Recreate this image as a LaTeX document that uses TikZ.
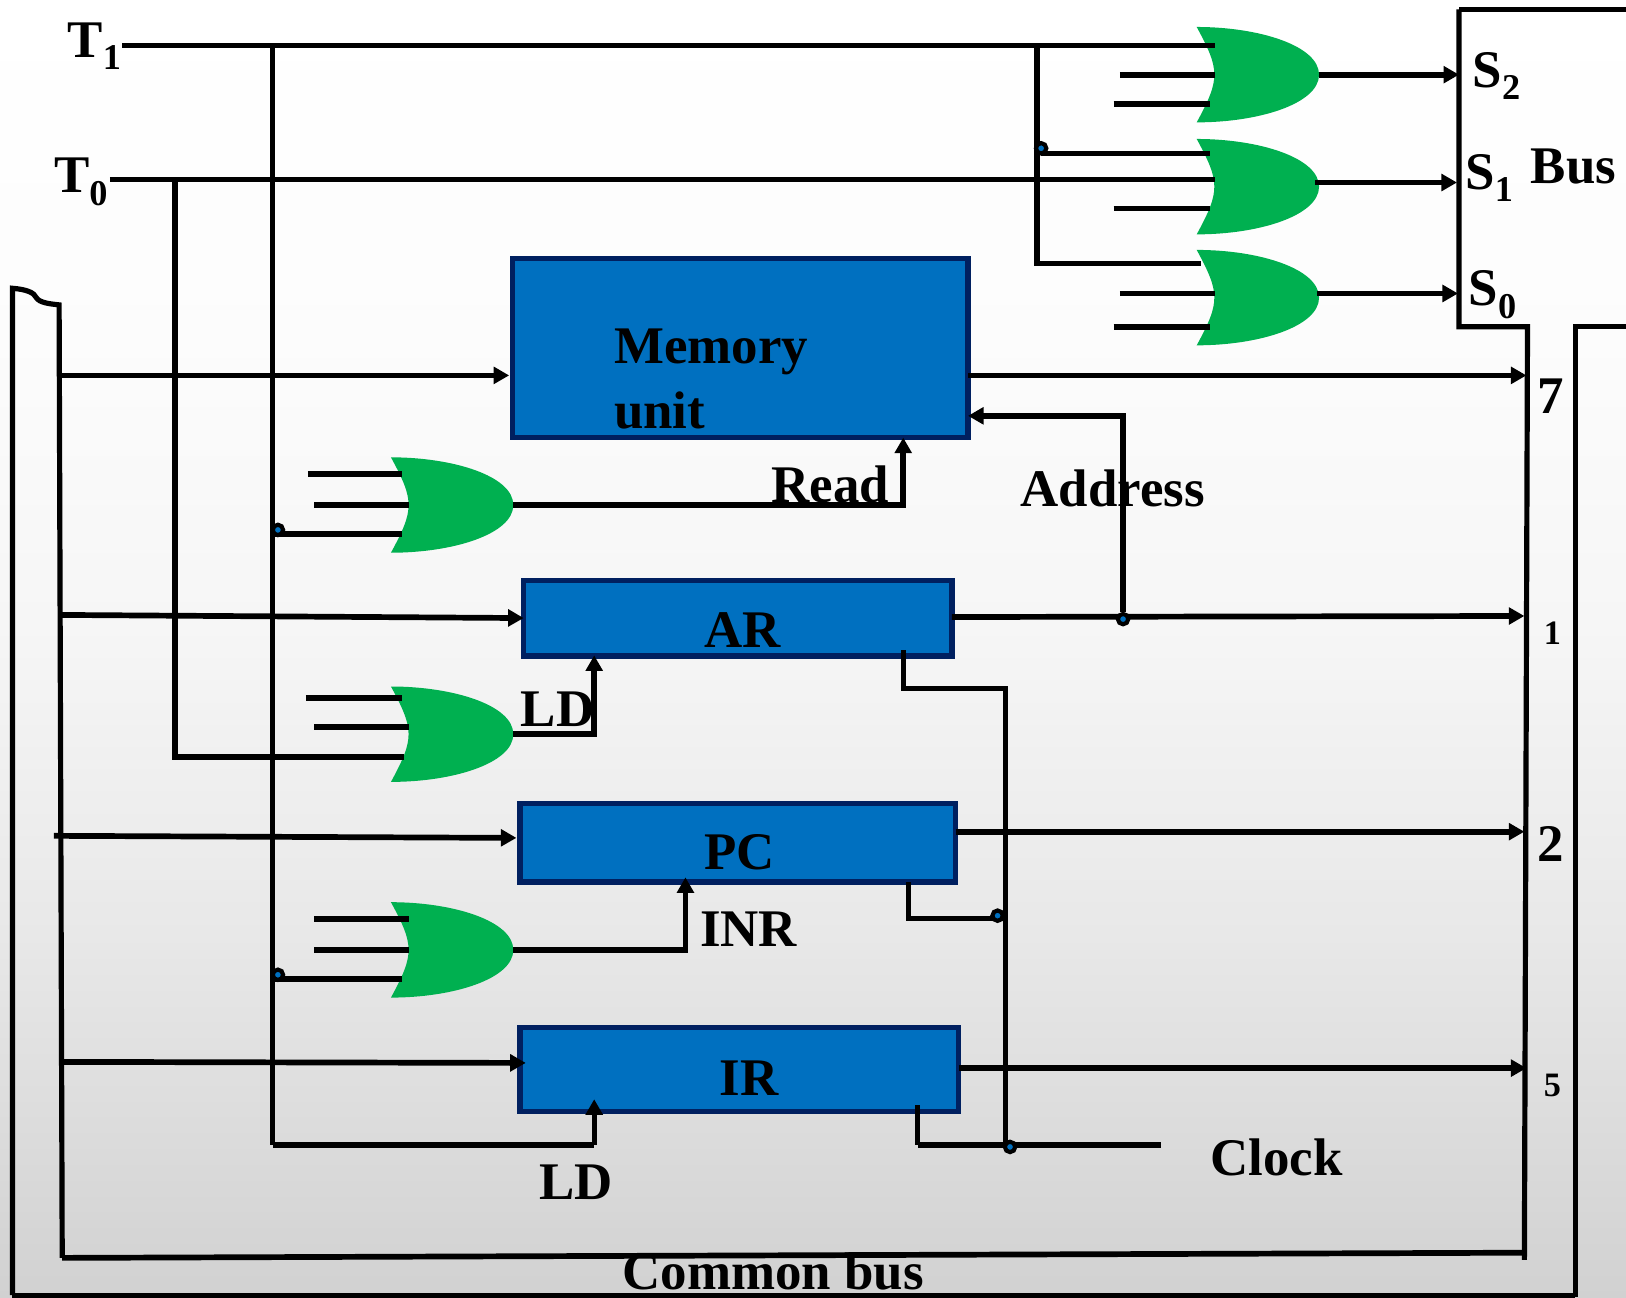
\documentclass[tikz,border=0pt]{standalone}
\usepackage{fontspec}
\setmainfont{Liberation Serif}
\usetikzlibrary{arrows.meta}
\definecolor{regfill}{HTML}{0070C0}
\definecolor{regline}{HTML}{002060}
\definecolor{gatefill}{HTML}{00B050}
\pgfdeclareverticalshading{bgshade}{100bp}{
  rgb(0bp)=(0.82,0.82,0.82);
  rgb(25bp)=(0.82,0.82,0.82);
  rgb(39bp)=(0.91,0.91,0.91);
  rgb(51bp)=(0.965,0.965,0.965);
  rgb(63bp)=(0.99,0.99,0.99);
  rgb(75bp)=(1,1,1);
  rgb(100bp)=(1,1,1)}
\newcommand{\subtxt}[1]{\raisebox{-.23em}{\fontsize{35}{35}\selectfont #1}}
\tikzset{
  wire/.style={line width=5.5pt,draw=black},
  thinwire/.style={line width=5pt,draw=black},
  arrowwire/.style={wire,-{Triangle[length=15pt,width=16pt]}},
  regbox/.style={draw=regline,fill=regfill,line width=5pt,inner sep=0pt,outer sep=0pt},
  junction/.style={circle,draw=black,fill=regfill,line width=4pt,minimum size=10pt,inner sep=0pt},
  txt/.style={font=\fontsize{51}{60}\selectfont\bfseries,inner sep=0pt,anchor=base west,text=black},
  smalltxt/.style={font=\fontsize{33}{36}\selectfont\bfseries,inner sep=0pt,text=black},
  orgate/.pic={
    \fill[gatefill] (0,-46) .. controls (60,-46) and (118,-28) .. (118,0)
      .. controls (118,28) and (60,46) .. (0,46)
      .. controls (12,24) and (17,12) .. (17,0)
      .. controls (17,-12) and (12,-24) .. (0,-46) -- cycle;
    \coordinate (-out) at (118,0);
  }
}
\begin{document}
\begin{tikzpicture}[x=1pt,y=-1pt]
\useasboundingbox (0,0) rectangle (1568,1251);
\shade[shading=bgshade] (0,0) rectangle (1568,1251);

% registers
\node[regbox,minimum width=439pt,minimum height=172pt] (mem) at (714,335.5) {};
\node[regbox,minimum width=413pt,minimum height=73pt] (ar) at (711.5,596) {};
\node[regbox,minimum width=420pt,minimum height=76pt] (pc) at (711.5,812.5) {};
\node[regbox,minimum width=423pt,minimum height=81pt] (ir) at (713,1031) {};

% gates
\pic (g1) at (1154,72) {orgate};
\pic (g2) at (1154,180) {orgate};
\pic (g3) at (1154,287) {orgate};
\pic (g4) at (377,487) {orgate};
\pic (g5) at (377,708) {orgate};
\pic (g6) at (377,916) {orgate};

% named points
\coordinate (t1) at (118,44);
\coordinate (t0) at (106,173);
\coordinate (t1g) at (1172,44);
\coordinate (t0g) at (1172,173);
\coordinate (vt1top) at (263,44);
\coordinate (vt1bot) at (263,1104);
\coordinate (irld) at (573,1104);
\coordinate (irldtip) at (573,1060);
\coordinate (vt0top) at (169,173);
\coordinate (vt0bot) at (169,730);
\coordinate (g5c) at (390,730);
\coordinate (vstop) at (1000,44);
\coordinate (vsbot) at (1000,254);
\coordinate (g3a) at (1158,254);
\coordinate (busT) at (1407,9);
\coordinate (busB) at (1407,315);
\coordinate (busTR) at (1568,9);
\coordinate (busS) at (1473,315);
\coordinate (busSb) at (1470,1215);
\coordinate (busR) at (1519,315);
\coordinate (busRR) at (1568,315);
\coordinate (busRb) at (1519,1251);
\coordinate (busLt) at (57,294);
\coordinate (busLb) at (60,1213);
\coordinate (busBr) at (1470,1208);
\coordinate (outL) at (12,278);
\coordinate (outLb) at (12,1249);
\coordinate (outRb) at (1519,1249);

% common bus
\draw[thinwire] (busT) -- (busB) -- (busS) -- (busSb);
\draw[thinwire] (busT) -- (busTR);
\draw[thinwire] (busRR) -- (busR) -- (busRb);
\draw[thinwire] (outLb) -- (outL) .. controls (25,279) and (33,282) .. (35,287) .. controls (38,292) and (48,293) .. (busLt) -- (busLb);
\draw[wire] (busLb) -- (busBr);
\draw[thinwire] (outLb) -- (outRb);

% control lines
\draw[wire] (t1) -- (t1g);
\draw[wire] (t0) -- (t0g);
\draw[thinwire] (vt1top) -- (vt1bot);
\draw[wire] (vt1bot) -- (irld);
\draw[thinwire,-{Triangle[length=15pt,width=16pt]}] (irld) -- (irldtip);
\draw[wire] (vt0top) -- (vt0bot) -- (g5c);
\draw[wire] (vstop) -- (vsbot) -- (g3a);

% gate 1-3 inputs and outputs
\node[junction] (js) at (1004,143) {};
\draw[wire] (1004,148) -- (1167,148);
\draw[wire] (1080,72) -- (1172,72);
\draw[wire] (1074,100.5) -- (1167,100.5);
\draw[wire] (1074,201) -- (1167,201);
\draw[wire] (1080,283) -- (1172,283);
\draw[wire] (1074,315) -- (1167,315);
\draw[arrowwire] (g1-out) -- (busT |- g1-out);
\draw[arrowwire] (1268,176) -- (1405,176);
\draw[arrowwire] (1270,283) -- (1406,283);

% bus to registers
\draw[arrowwire] (57,362) -- (491,362);
\draw[arrowwire] (60,593) -- (ar.west |- 0,596);
\draw[arrowwire] (52,806) -- (498,808);
\draw[arrowwire] (60,1024) -- (507,1025);

% registers to bus
\draw[arrowwire] (mem.east |- 0,362) -- (1472,362);
\draw[arrowwire] (ar.east |- 0,595) -- (1470,594);
\draw[arrowwire] (pc.east |- 0,802) -- (1470,802);
\draw[arrowwire] (ir.east |- 0,1030) -- (1472,1030);

% address
\node[junction] (ja) at (1083,597) {};
\draw[wire,-{Triangle[length=15pt,width=16pt]}] (ja) -- (1083,401) -- (mem.east |- 0,401);

% gate 4
\draw[wire] (297,457) -- (388,457);
\draw[wire] (303,487) -- (394,487);
\draw[wire] (263,515) -- (388,515);
\node[junction] (j4) at (268,511) {};
\draw[wire,-{Triangle[length=15pt,width=16pt]}] (g4-out) -- (871,487) -- (871,422);

% gate 5
\draw[wire] (295,673) -- (388,673);
\draw[wire] (303,701) -- (394,701);
\draw[wire,-{Triangle[length=15pt,width=16pt]}] (g5-out) -- (573,708) -- (573,632);

% gate 6
\draw[wire] (303,886) -- (394,886);
\draw[wire] (303,916) -- (394,916);
\draw[wire] (263,944) -- (388,944);
\node[junction] (j6) at (268,940) {};
\draw[wire,-{Triangle[length=15pt,width=16pt]}] (g6-out) -- (661,916) -- (661,846);

% clock
\draw[thinwire] (871,627) -- (871,664) -- (970,664) -- (970,1105);
\draw[thinwire] (876,851) -- (876,886) -- (965,886);
\node[junction] (jp) at (962,883) {};
\draw[thinwire] (885,1066) -- (885,1104);
\draw[wire] (885,1104) -- (1120,1104);
\node[junction] (jc) at (974,1106) {};

% labels
\node[txt] (lt1) at (65,55) {T\subtxt{1}};
\node[txt] (lt0) at (52,186) {T\subtxt{0}};
\node[txt] (ls2) at (1420,84) {S\subtxt{2}};
\node[txt] (ls1) at (1413,183) {S\subtxt{1}};
\node[txt] (ls0) at (1416,295) {S\subtxt{0}};
\node[txt] (lbus) at (1476,177) {Bus};
\node[txt] (lmem) at (592,351) {Memory};
\node[txt] (lunit) at (592,413) {unit};
\node[txt] (lread) at (744,485) {Read};
\node[txt] (laddr) at (984,488) {Address};
\node[txt] (lar) at (679,624) {AR};
\node[txt] (lld) at (502,701) {LD};
\node[txt] (lpc) at (679,838) {PC};
\node[txt] (linr) at (675,913) {INR};
\node[txt] (lir) at (694,1056) {IR};
\node[txt] (lld2) at (520,1157) {LD};
\node[txt] (lclock) at (1167,1134) {Clock};
\node[txt] (lcommon) at (600,1243) {Common bus};
\node[txt] (l7) at (1482,399) {7};
\node[txt] (l2) at (1482,831) {2};
\node[smalltxt] (l1) at (1497,611) {1};
\node[smalltxt] (l5) at (1497,1047) {5};
\end{tikzpicture}
\end{document}
